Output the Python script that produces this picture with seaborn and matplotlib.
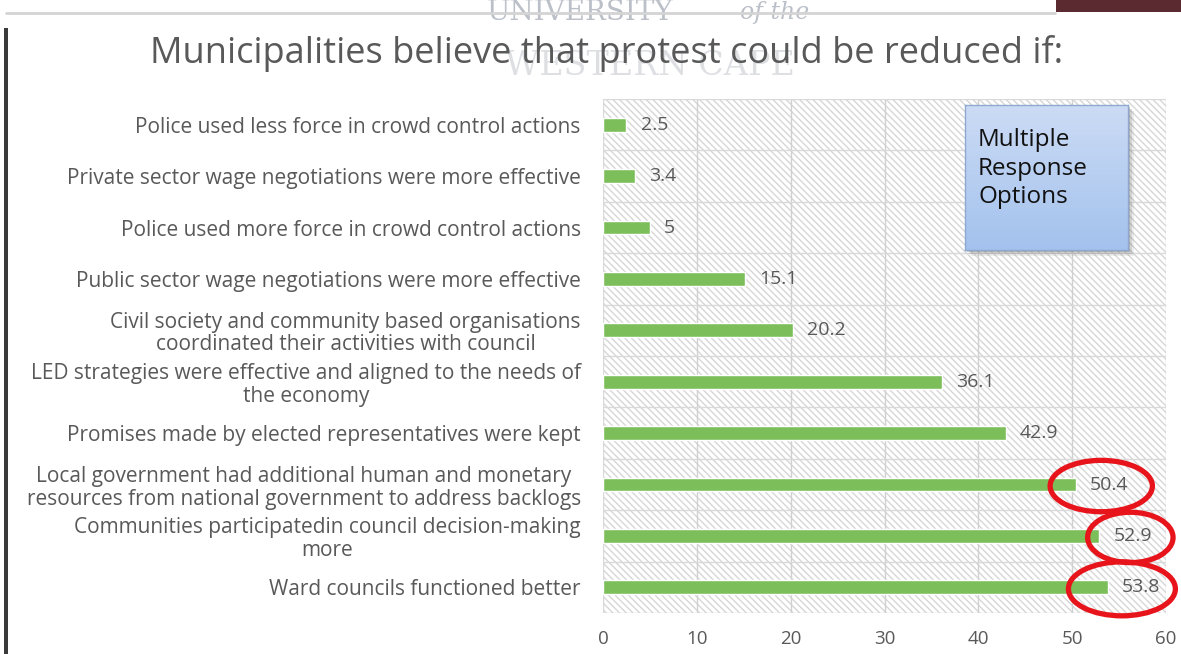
import matplotlib
matplotlib.use("Agg")
import matplotlib.pyplot as plt
import numpy as np
import pandas as pd
import seaborn as sns
from matplotlib.patches import Ellipse, Rectangle

categories = [
    "Police used less force in crowd control actions",
    "Private sector wage negotiations were more effective",
    "Police used more force in crowd control actions",
    "Public sector wage negotiations were more effective",
    "Civil society and community based organisations\ncoordinated their activities with council",
    "LED strategies were effective and aligned to the needs of\nthe economy",
    "Promises made by elected representatives were kept",
    "Local government had additional human and monetary\nresources from national government to address backlogs",
    "Communities participatedin council decision-making\nmore",
    "Ward councils functioned better",
]
values = [2.5, 3.4, 5, 15.1, 20.2, 36.1, 42.9, 50.4, 52.9, 53.8]
value_labels = ["2.5", "3.4", "5", "15.1", "20.2", "36.1", "42.9", "50.4", "52.9", "53.8"]
circled = [7, 8, 9]
x_ticks = [0, 10, 20, 30, 40, 50, 60]

title = "Municipalities believe that protest could be reduced if:"
note = "Multiple\nResponse\nOptions"

sns.set_theme(style="white")
plt.rcParams["font.family"] = ["Open Sans", "DejaVu Sans"]

TEXT = "#595959"
BAR = "#7cbf5a"

df = pd.DataFrame({"category": categories, "value": values})

W, H = 1181, 654
fig = plt.figure(figsize=(W / 100, H / 100), dpi=100)
fig.patch.set_facecolor("white")
ax = fig.add_axes([603 / W, 1 - 613 / H, 563 / W, 514 / H])


def fx(px):
    return px / W


def fy(py):
    return 1 - py / H


# hatched plot background
bg = Rectangle((0, 0), 1, 1, transform=ax.transAxes, facecolor="white",
               edgecolor="#d6d6d6", hatch="\\\\\\\\\\", linewidth=0, zorder=0)
ax.add_patch(bg)

sns.barplot(data=df, x="value", y="category", orient="h", color=BAR,
            width=0.27, saturation=1, ax=ax, zorder=3)

ax.set_xlim(0, 60)
ax.set_ylim(len(categories) - 0.5, -0.5)
ax.set_xticks(x_ticks)
ax.set_xticklabels([str(t) for t in x_ticks], color=TEXT, fontsize=13.5)
ax.set_xlabel("")
ax.set_ylabel("")
ax.set_yticks(range(len(categories)))
ax.set_yticklabels(categories, color=TEXT, fontsize=15, multialignment="center",
                   linespacing=1.1)
ax.tick_params(axis="y", length=0, pad=16)
ax.tick_params(axis="x", length=0, pad=12)

# gridlines
for t in x_ticks[1:]:
    ax.axvline(t, color="#d0d0d0", linewidth=1, zorder=1)
for b in np.arange(-0.5, len(categories) + 0.5, 1):
    ax.axhline(b, color="#d9d9d9", linewidth=1, zorder=1)
for s in ax.spines.values():
    s.set_visible(False)
ax.axvline(0, color="#d9d9d9", linewidth=1, zorder=2)

# value labels
for i, (v, lab) in enumerate(zip(values, value_labels)):
    ax.text(v + 1.5, i, lab, va="center", ha="left", color=TEXT, fontsize=14, zorder=5)

# red emphasis ellipses (centre x, width, height in data units)
ell_specs = {7: (53.1, 10.9, 1.0), 8: (56.2, 9.1, 0.98), 9: (55.3, 11.4, 1.05)}
for i in circled:
    cx, w, h = ell_specs[i]
    ax.add_patch(Ellipse((cx, i + 0.03), w, h, fill=False, edgecolor="#e8141b",
                         linewidth=3.8, zorder=6, clip_on=False))

# note box with soft shadow and vertical gradient
bx0, by0, bx1, by1 = 965, 105, 1128, 250
for k, a in [(6, 0.12), (4, 0.2), (2, 0.3)]:
    fig.patches.append(Rectangle((fx(bx0 + k), fy(by1 + k)), (bx1 - bx0) / W, (by1 - by0) / H,
                                 transform=fig.transFigure, facecolor="#707070",
                                 edgecolor="none", alpha=a, zorder=9))
gax = fig.add_axes([fx(bx0), fy(by1), (bx1 - bx0) / W, (by1 - by0) / H], zorder=10)
grad = np.linspace(0, 1, 256).reshape(-1, 1)
top_c = np.array([0.80, 0.86, 0.96])
bot_c = np.array([0.64, 0.76, 0.93])
img = top_c[None, None, :] * (1 - grad[..., None]) + bot_c[None, None, :] * grad[..., None]
gax.imshow(img, aspect="auto", extent=[0, 1, 0, 1], origin="upper")
gax.set_xticks([])
gax.set_yticks([])
for s in gax.spines.values():
    s.set_color("#8fa8d0")
    s.set_linewidth(1)
gax.text(13 / (bx1 - bx0), 0.56, note, transform=gax.transAxes, ha="left", va="center",
         fontsize=17.5, color="#111111", linespacing=1.25)

# title and faint watermark
fig.text(fx(150), fy(54), title, ha="left", va="center", fontsize=26,
         color=TEXT, zorder=4)
fig.text(fx(580), fy(13), "UNIVERSITY", ha="center", va="center", fontsize=20,
         family="DejaVu Serif", color="#8e95a3", alpha=0.6, zorder=1)
fig.text(fx(775), fy(13), "of the", ha="center", va="center", fontsize=17,
         family="DejaVu Serif", style="italic", color="#8e95a3", alpha=0.6, zorder=1)
fig.text(fx(650), fy(66), "WESTERN CAPE", ha="center", va="center", fontsize=24,
         family="DejaVu Serif", color="#aab0ba", alpha=0.4, zorder=1)

# page frame accents
fig.patches.append(Rectangle((fx(4), 0), 4 / W, fy(28), transform=fig.transFigure,
                             facecolor="#3a3a3a", edgecolor="none"))
fig.lines.append(plt.Line2D([fx(6), fx(1055)], [fy(13), fy(13)],
                            transform=fig.transFigure, color="#d4d4d4", linewidth=2))
fig.patches.append(Rectangle((fx(1056), fy(12)), 125 / W, 12 / H,
                             transform=fig.transFigure, facecolor="#5a2a30", edgecolor="none"))

fig.savefig("out.png", dpi=100, facecolor="white")
